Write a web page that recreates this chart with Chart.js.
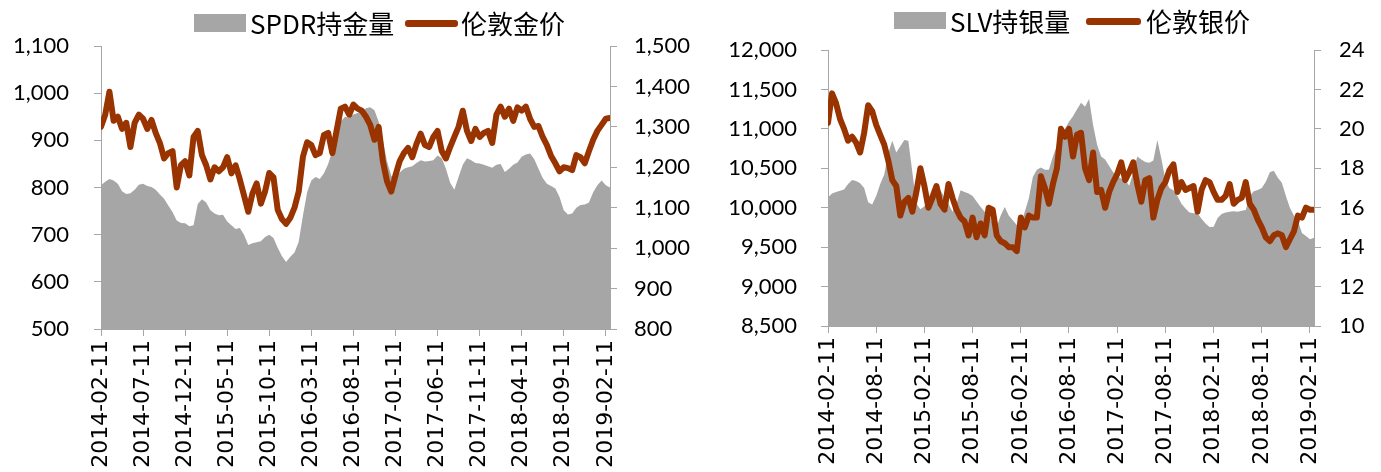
<!DOCTYPE html>
<html>
<head>
<meta charset="utf-8">
<script src="https://cdn.jsdelivr.net/npm/chart.js@4/dist/chart.umd.min.js"></script>
<style>
  body { margin: 0; background: #fff; }
  #wrap { position: relative; width: 1381px; height: 472px; overflow: hidden; }
  canvas { position: absolute; top: 0; }
  .lg { position: absolute; font-family: "Noto Sans CJK SC", sans-serif; font-size: 26px; color: #000; line-height: 30px; white-space: nowrap; }
  .box { position: absolute; background: #a6a6a6; }
  .ln { position: absolute; background: #993300; border-radius: 3px; }
</style>
</head>
<body>
<div id="wrap">
  <canvas id="goldChart" style="left:0"></canvas>
  <canvas id="silverChart" style="left:690px"></canvas>

  <div class="box" style="left:194px;top:14px;width:52px;height:18px"></div>
  <div class="lg" style="left:250px;top:8px">SPDR持金量</div>
  <div class="ln" style="left:405px;top:20px;width:53px;height:7px"></div>
  <div class="lg" style="left:461px;top:8px">伦敦金价</div>

  <div class="box" style="left:894px;top:12px;width:52px;height:17px"></div>
  <div class="lg" style="left:950px;top:6px">SLV持银量</div>
  <div class="ln" style="left:1086px;top:18px;width:55px;height:7px"></div>
  <div class="lg" style="left:1146px;top:6px">伦敦银价</div>
</div>
<script>
// half-month samples, 2014-02-11 .. 2019-02-26
var goldTickLabels = ['2014-02-11','2014-07-11','2014-12-11','2015-05-11','2015-10-11','2016-03-11','2016-08-11','2017-01-11','2017-06-11','2017-11-11','2018-04-11','2018-09-11','2019-02-11'];
var silverTickLabels = ['2014-02-11','2014-08-11','2015-02-11','2015-08-11','2016-02-11','2016-08-11','2017-02-11','2017-08-11','2018-02-11','2018-08-11','2019-02-11'];

// SPDR持金量 (tonnes)
var spdrHold = [805,812,818,815,808,792,786,788,795,806,808,803,801,795,785,776,762,748,730,725,
  724,718,720,765,775,768,752,745,741,742,728,720,712,714,700,678,682,684,686,695,
  700,693,672,655,642,653,662,685,740,790,815,822,818,830,850,878,920,940,950,948,
  955,958,960,968,970,964,940,900,855,825,818,832,840,843,845,852,858,855,856,858,
  868,862,840,810,795,822,848,862,858,852,851,848,845,842,848,850,833,840,848,853,
  865,870,872,860,840,820,808,803,798,780,752,743,745,757,763,764,768,790,805,815,
  805,800];
// 伦敦金价 (USD/oz)
var goldPrice = [1300,1330,1387,1315,1325,1295,1310,1250,1310,1330,1320,1295,1317,1285,1260,1222,1235,1240,1150,1205,
  1215,1180,1275,1290,1230,1205,1170,1200,1190,1200,1225,1185,1205,1170,1130,1090,1135,1160,1110,1140,
  1186,1175,1095,1072,1060,1075,1100,1140,1226,1262,1255,1230,1235,1280,1285,1235,1290,1345,1350,1330,
  1355,1345,1340,1325,1305,1268,1300,1215,1165,1140,1180,1215,1235,1248,1225,1258,1283,1255,1250,1275,
  1290,1240,1222,1250,1275,1300,1340,1290,1265,1295,1275,1285,1290,1260,1330,1350,1325,1345,1315,1348,
  1340,1350,1320,1300,1302,1275,1255,1228,1210,1190,1200,1198,1193,1230,1225,1210,1240,1268,1290,1305,
  1320,1322];

// SLV持银量 (tonnes)
var slvHold = [10130,10180,10200,10215,10230,10300,10350,10340,10310,10250,10070,10040,10150,10300,10420,10690,10850,10700,10780,10860,
  10850,10450,10050,9980,10020,10120,10250,10240,10220,10130,10050,9950,10050,10220,10200,10180,10150,10080,10010,9950,
  9930,9800,9760,9900,10010,9900,9840,9780,9800,9950,10120,10390,10480,10510,10480,10480,10650,10790,10950,11000,
  11090,11160,11250,11330,11280,11380,11050,10800,10650,10610,10530,10450,10400,10370,10350,10280,10450,10650,10610,10580,
  10570,10600,10860,10620,10350,10250,10220,10150,10050,9990,9940,9930,9930,9860,9800,9756,9760,9870,9920,9940,
  9950,9955,9950,9960,9970,10150,10210,10226,10250,10330,10450,10470,10380,10315,10150,10000,9900,9830,9680,9640,
  9600,9620];
// 伦敦银价 (USD/oz)
var silverPrice = [20.3,21.8,21.3,20.5,20.0,19.4,19.6,19.3,18.8,19.8,21.2,20.9,20.2,19.7,19.2,18.4,17.4,17.1,15.6,16.3,
  16.5,15.8,16.8,18.0,17.1,16.0,16.5,17.1,16.2,15.9,17.2,16.5,15.9,15.5,15.3,14.6,15.5,14.5,15.2,14.6,
  16.0,15.9,14.6,14.3,14.2,14.0,14.0,13.8,15.5,15.0,15.6,15.5,15.5,17.6,17.0,16.2,17.2,18.0,20.0,19.6,
  20.0,18.6,19.7,19.8,18.0,17.4,18.8,16.8,16.9,16.0,16.8,17.3,17.7,18.3,17.4,17.8,18.3,17.2,16.3,17.4,
  17.5,15.5,16.4,17.0,17.3,17.9,18.2,16.8,17.3,16.9,17.0,17.1,15.8,16.9,17.4,17.3,16.8,16.4,16.4,16.6,
  17.2,16.2,16.4,16.5,17.3,16.2,15.9,15.4,15.0,14.5,14.3,14.6,14.7,14.6,14.0,14.4,14.8,15.6,15.5,16.0,
  15.9,15.9];

var axisGray = '#a6a6a6';
var lineRed = '#993300';

function pts(arr) {
  return arr.map(function (v, i) { return { x: i / 2, y: v }; });
}
function fmt(v) { return v.toLocaleString('en-US'); }

function makeChart(id, w, opt) {
  var cv = document.getElementById(id);
  cv.width = w; cv.height = 472;
  cv.style.width = w + 'px'; cv.style.height = '472px';
  var tickFont = { family: 'Lato', size: 22 };
  return new Chart(cv, {
    type: 'line',
    data: {
      datasets: [{
        label: opt.areaLabel,
        data: pts(opt.area),
        yAxisID: 'y',
        fill: 'start',
        backgroundColor: '#a6a6a6',
        borderWidth: 0,
        pointRadius: 0,
        order: 2
      }, {
        label: opt.lineLabel,
        data: pts(opt.line),
        yAxisID: 'y1',
        fill: false,
        borderColor: lineRed,
        borderWidth: 6,
        borderJoinStyle: 'round',
        borderCapStyle: 'round',
        pointRadius: 0,
        order: 1
      }]
    },
    options: {
      responsive: false,
      animation: false,
      events: [],
      layout: { padding: { top: opt.top, left: 0, right: 0, bottom: 0 } },
      plugins: { legend: { display: false }, tooltip: { enabled: false } },
      scales: {
        x: {
          type: 'linear', min: 0, max: 60.5,
          afterBuildTicks: function (s) {
            s.ticks = opt.xLabels.map(function (_, k) { return { value: k * opt.step }; });
          },
          afterFit: function (s) { s.height = 472 - opt.bottom; },
          ticks: {
            autoSkip: false, minRotation: 90, maxRotation: 90, padding: 4,
            color: '#000', font: { family: 'DejaVu Sans', size: 22 },
            callback: function (v) { return opt.xLabels[Math.round(v / opt.step)]; }
          },
          grid: { drawOnChartArea: false, tickLength: 7, color: axisGray },
          border: { color: axisGray }
        },
        y: {
          position: 'left', min: opt.yMin, max: opt.yMax,
          afterFit: function (s) { s.width = opt.left; },
          ticks: { stepSize: opt.yStep, padding: opt.lPad, color: '#000', font: tickFont, callback: fmt },
          grid: { drawOnChartArea: false, tickLength: 7, color: axisGray },
          border: { color: axisGray }
        },
        y1: {
          position: 'right', min: opt.y1Min, max: opt.y1Max,
          afterFit: function (s) { s.width = w - opt.right; },
          ticks: { stepSize: opt.y1Step, padding: opt.rPad, color: '#000', font: tickFont, callback: fmt },
          grid: { drawOnChartArea: false, tickLength: 7, color: axisGray },
          border: { color: axisGray }
        }
      }
    }
  });
}

makeChart('goldChart', 700, {
  areaLabel: 'SPDR持金量', lineLabel: '伦敦金价',
  area: spdrHold, line: goldPrice, xLabels: goldTickLabels, step: 5,
  yMin: 500, yMax: 1100, yStep: 100, y1Min: 800, y1Max: 1500, y1Step: 100,
  top: 46, bottom: 329, left: 101, right: 610, lPad: 25, rPad: 17
});

makeChart('silverChart', 691, {
  areaLabel: 'SLV持银量', lineLabel: '伦敦银价',
  area: slvHold, line: silverPrice, xLabels: silverTickLabels, step: 6,
  yMin: 8500, yMax: 12000, yStep: 500, y1Min: 10, y1Max: 24, y1Step: 2,
  top: 50, bottom: 326, left: 138, right: 624, lPad: 24, rPad: 18
});
</script>
</body>
</html>
